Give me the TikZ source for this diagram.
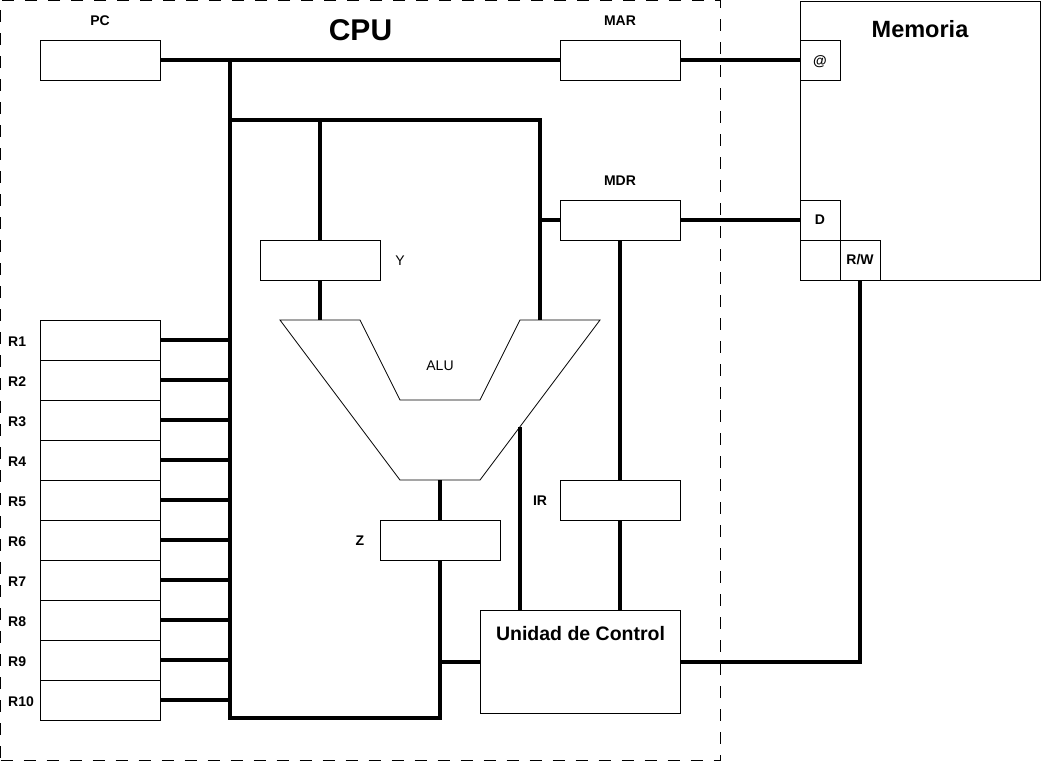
\documentclass[tikz,border=0pt]{standalone}
\usepackage{fontspec}
\setmainfont{Liberation Sans}
\begin{document}
\begin{tikzpicture}[x=1pt,y=-1pt,
  reg/.style={draw, line width=1pt, minimum width=120pt, minimum height=40pt, inner sep=0pt, fill=white},
  port/.style={draw, line width=1pt, minimum width=40pt, minimum height=40pt, inner sep=0pt},
  bus/.style={line width=4pt, line join=miter},
  lbl/.style={font=\fontsize{14}{16}\selectfont\bfseries, inner sep=0pt},
  lblr/.style={font=\fontsize{14}{16}\selectfont, inner sep=0pt},
  title/.style={font=\fontsize{#1}{#1}\selectfont\bfseries, inner sep=0pt},
  region/.style={draw, line width=1pt, dash pattern=on 12pt off 11pt, inner sep=0pt}]
\useasboundingbox (0,0) rectangle (1041,761);

% CPU region
\node[region, minimum width=719.5pt, minimum height=759.5pt] (cpu) at (360.25,380.25) {};
\node[title=30] (cputxt) at (360.5,30) {CPU};

% Memory
\node[draw, line width=1pt, minimum width=240pt, minimum height=279pt, inner sep=0pt] (mem) at (920,140.5) {};
\node[title=23.5] (memtxt) at (920,29.5) {Memoria};
\node[port] (at) at (820,60) {};
\node[lbl] at (820,62) {@};
\node[port] (d) at (820,220) {};
\node[lbl] at (820,220) {D};
\node[port] (blank) at (820,260) {};
\node[port] (rw) at (860,260) {};
\node[lbl] at (860,260) {R/W};

% Registers
\node[reg] (pc) at (100,60) {};
\node[lbl] at (100,21) {PC};
\node[reg] (mar) at (620,60) {};
\node[lbl] at (620,20.5) {MAR};
\node[reg] (mdr) at (620,220) {};
\node[lbl] at (620,180.5) {MDR};
\node[reg] (y) at (320,260) {};
\node[lblr] at (400,261) {Y};
\node[reg] (z) at (440,540) {};
\node[lbl] at (360,540.5) {Z};
\node[reg] (ir) at (620,500) {};
\node[lbl] at (540,501) {IR};
\node[draw, line width=1pt, minimum width=200pt, minimum height=103pt, inner sep=0pt] (uc) at (580,661.5) {};
\node[title=19.5] (uctxt) at (580.5,634) {Unidad de Control};

\foreach \i in {1,...,10} {
  \node[reg] (r\i) at (100,{340+40*(\i-1)}) {};
  \node[lbl, anchor=west] (lr\i) at (8,{341.5+40*(\i-1)}) {R\i};
}

% ALU
\coordinate (aluA) at (280,320);
\coordinate (aluB) at (360,320);
\coordinate (aluC) at (400,400);
\coordinate (aluD) at (480,400);
\coordinate (aluE) at (520,320);
\coordinate (aluF) at (600,320);
\coordinate (aluG) at (480,480);
\coordinate (aluH) at (400,480);
\draw[line width=0.8pt] (aluA) -- (aluB) -- (aluC) -- (aluD) -- (aluE) -- (aluF) -- (aluG) -- (aluH) -- cycle;
\node[lblr] (alutxt) at (440,365.5) {ALU};
\coordinate (aluInL) at (320,320);
\coordinate (aluInR) at (540,320);
\coordinate (aluOut) at (440,480);
\coordinate (aluCtl) at (520,426.7);

% Bus coordinates
\coordinate (bt) at (230,60);
\coordinate (bb) at (230,718);
\coordinate (b2) at (230,120);

% Buses
\draw[bus] (pc.east) -- (mar.west);
\draw[bus] (mar.east) -- (at.west);
\draw[bus] (mdr.east) -- (d.west);
\draw[bus] (bt) -- (bb) -| (z.south);
\draw[bus] (b2) -| (aluInR);
\draw[bus] (y.north |- b2) -- (y.north);
\draw[bus] (y.south) -- (aluInL);
\draw[bus] (mdr.west) -- (mdr.west -| aluInR);
\draw[bus] (mdr.south) -- (ir.north);
\draw[bus] (ir.south) -- (ir.south |- uc.north);
\draw[bus] (aluOut) -- (z.north);
\draw[bus] (aluCtl) -- (aluCtl |- uc.north);
\draw[bus] (uc.east) -| (rw.south);
\draw[bus] (uc.west -| z.south) -- (uc.west);
\foreach \i in {1,...,10} {
  \draw[bus] (r\i.east) -- (r\i.east -| bt);
}
\end{tikzpicture}
\end{document}
